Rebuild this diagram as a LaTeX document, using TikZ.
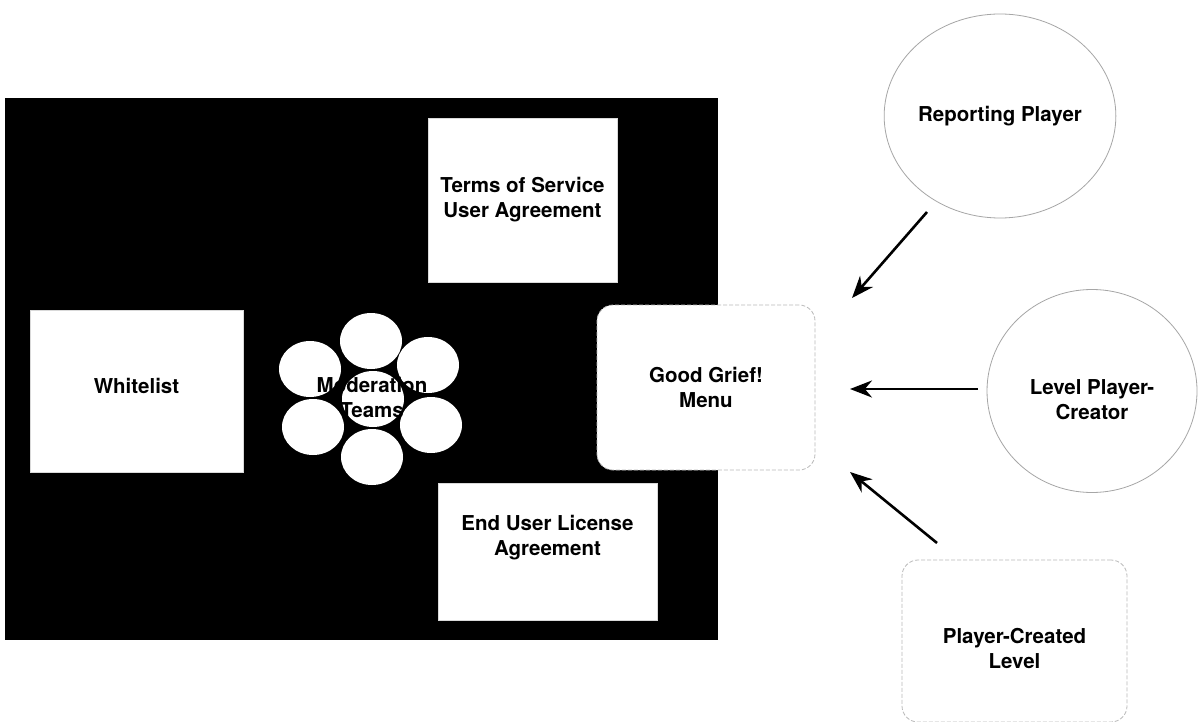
\documentclass[tikz,border=0pt]{standalone}
\usepackage{fontspec}
\setmainfont{TeX Gyre Heros}
\usetikzlibrary{arrows.meta,shapes.geometric}
\begin{document}
\begin{tikzpicture}[x=1pt,y=-1pt,
  lbl/.style={font=\bfseries\fontsize{20.5}{25}\selectfont, align=center, text=black},
  sqbox/.style={fill=white, draw=gray!30, line width=0.6pt, inner sep=0pt, lbl},
  rbox/.style={fill=white, draw=gray!55, line width=0.8pt, dash pattern=on 4pt off 2pt, rounded corners=16pt, inner sep=0pt, lbl},
  actor/.style={ellipse, fill=white, draw=gray!70, line width=0.8pt, inner sep=0pt, lbl},
  team/.style={ellipse, fill=white, draw=none, minimum width=62pt, minimum height=56pt, inner sep=0pt},
  flow/.style={line width=2.6pt, -{Stealth[length=22pt,width=17pt]}}
]
\useasboundingbox (0,0) rectangle (1201,722);
\fill[white] (0,0) rectangle (1201,722);

% black background panel
\fill[black] (5,98) rectangle (718,640);

% boxes inside the panel
\node[sqbox, minimum width=189pt, minimum height=164pt] (tos) at (522.5,200) {Terms of Service\\User Agreement};
\node[sqbox, minimum width=213pt, minimum height=162pt, label={[lbl, yshift=5pt]center:Whitelist}] (white) at (136.5,391) {};
\node[sqbox, minimum width=219pt, minimum height=137pt, label={[lbl, yshift=14pt]center:End User License\\Agreement}] (eula) at (547.5,551.5) {};

% moderation teams
\node[team] (tc) at (373,399) {};
\node[team] (t1) at (371,341) {};
\node[team] (t2) at (428,365) {};
\node[team] (t3) at (431,425) {};
\node[team] (t4) at (372,457) {};
\node[team] (t5) at (313,427) {};
\node[team] (t6) at (310,369) {};
\node[lbl] (mod) at (372,397) {Moderation\\Teams};

% good grief menu
\node[rbox, minimum width=218pt, minimum height=165pt] (menu) at (706,387.5) {Good Grief!\\Menu};

% actors
\node[actor, minimum width=210pt, minimum height=204pt] (rep) at (1000,116) {Reporting Player};
\node[actor, minimum width=210pt, minimum height=203pt, label={[lbl, yshift=-9pt]center:Level Player-\\Creator}] (lvl) at (1092,391) {};
\node[rbox, minimum width=225pt, minimum height=162pt, label={[lbl, yshift=-7pt]center:Player-Created\\Level}] (pcl) at (1014.5,641) {};

% arrows
\coordinate (a1s) at (927,212);
\coordinate (a1e) at (852,298);
\coordinate (a2s) at (978,389);
\coordinate (a2e) at (850,389);
\coordinate (a3s) at (937,543);
\coordinate (a3e) at (850,472);
\draw[flow] (a1s) -- (a1e);
\draw[flow] (a2s) -- (a2e);
\draw[flow] (a3s) -- (a3e);
\end{tikzpicture}
\end{document}
